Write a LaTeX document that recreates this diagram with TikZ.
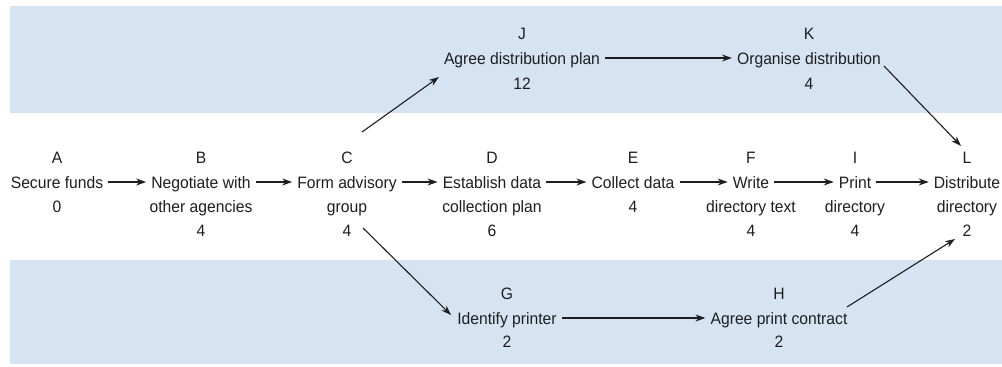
\documentclass[tikz,border=0pt]{standalone}
\usepackage{fontspec}
\setmainfont{Liberation Sans}[FakeStretch=0.95]
\usetikzlibrary{arrows.meta}
\definecolor{band}{HTML}{D5E3F2}
\definecolor{ink}{HTML}{1E1E1E}
\begin{document}
\begin{tikzpicture}[x=1pt,y=-1pt,
  lbl/.style={inner sep=0pt, anchor=base, text height=13pt, text depth=1pt,
    font=\fontsize{16.5}{20}\selectfont, text=ink},
  nm/.style={lbl, inner xsep=5pt},
  arr/.style={draw=ink, line width=1.1pt, -{Stealth[length=10pt,width=7pt]}}]
\useasboundingbox (0,0) rectangle (1002,367);
\fill[white] (0,0) rectangle (1002,367);
\fill[band] (10,6) rectangle (1002,113);
\fill[band] (10,260) rectangle (1002,364);

% middle row
\node[lbl] (A) at (57,163) {A};
\node[nm] (A1) at (57,188) {Secure funds};
\node[lbl] (Ad) at (57,212) {0};

\node[lbl] (B) at (201,163) {B};
\node[nm] (B1) at (201,188) {Negotiate with};
\node[lbl] (B2) at (201,212) {other agencies};
\node[lbl] (Bd) at (201,236) {4};

\node[lbl] (C) at (347,163) {C};
\node[nm] (C1) at (347,188) {Form advisory};
\node[lbl] (C2) at (347,212) {group};
\node[lbl] (Cd) at (347,236) {4};

\node[lbl] (D) at (492,163) {D};
\node[nm] (D1) at (492,188) {Establish data};
\node[lbl] (D2) at (492,212) {collection plan};
\node[lbl] (Dd) at (492,236) {6};

\node[lbl] (E) at (633,163) {E};
\node[nm] (E1) at (633,188) {Collect data};
\node[lbl] (Ed) at (633,212) {4};

\node[lbl] (F) at (751,163) {F};
\node[nm] (F1) at (751,188) {Write};
\node[lbl] (F2) at (751,212) {directory text};
\node[lbl] (Fd) at (751,236) {4};

\node[lbl] (I) at (855,163) {I};
\node[nm] (I1) at (855,188) {Print};
\node[lbl] (I2) at (855,212) {directory};
\node[lbl] (Id) at (855,236) {4};

\node[lbl] (L) at (967,163) {L};
\node[nm] (L1) at (967,188) {Distribute};
\node[lbl] (L2) at (967,212) {directory};
\node[lbl] (Ld) at (967,236) {2};

% top row
\node[lbl] (J) at (522,39) {J};
\node[nm] (J1) at (522,64) {Agree distribution plan};
\node[lbl] (Jd) at (522,89) {12};

\node[lbl] (K) at (809,39) {K};
\node[nm] (K1) at (809,64) {Organise distribution};
\node[lbl] (Kd) at (809,89) {4};

% bottom row
\node[lbl] (G) at (507,299) {G};
\node[nm] (G1) at (507,324) {Identify printer};
\node[lbl] (Gd) at (507,347) {2};

\node[lbl] (H) at (779,299) {H};
\node[nm] (H1) at (779,324) {Agree print contract};
\node[lbl] (Hd) at (779,347) {2};

% diagonal connector ends
\coordinate (cjs) at (362,132);
\coordinate (cje) at (439,77);
\coordinate (kls) at (884,66);
\coordinate (kle) at (961,146);
\coordinate (cgs) at (363,228);
\coordinate (cge) at (451,315);
\coordinate (hls) at (847,307);
\coordinate (hle) at (955,239);

% connectors
\draw[arr] (A1) -- (B1);
\draw[arr] (B1) -- (C1);
\draw[arr] (C1) -- (D1);
\draw[arr] (D1) -- (E1);
\draw[arr] (E1) -- (F1);
\draw[arr] (F1) -- (I1);
\draw[arr] (I1) -- (L1);
\draw[arr] (J1) -- (K1);
\draw[arr] (G1) -- (H1);
\draw[arr] (cjs) -- (cje);
\draw[arr] (kls) -- (kle);
\draw[arr] (cgs) -- (cge);
\draw[arr] (hls) -- (hle);
\end{tikzpicture}
\end{document}
